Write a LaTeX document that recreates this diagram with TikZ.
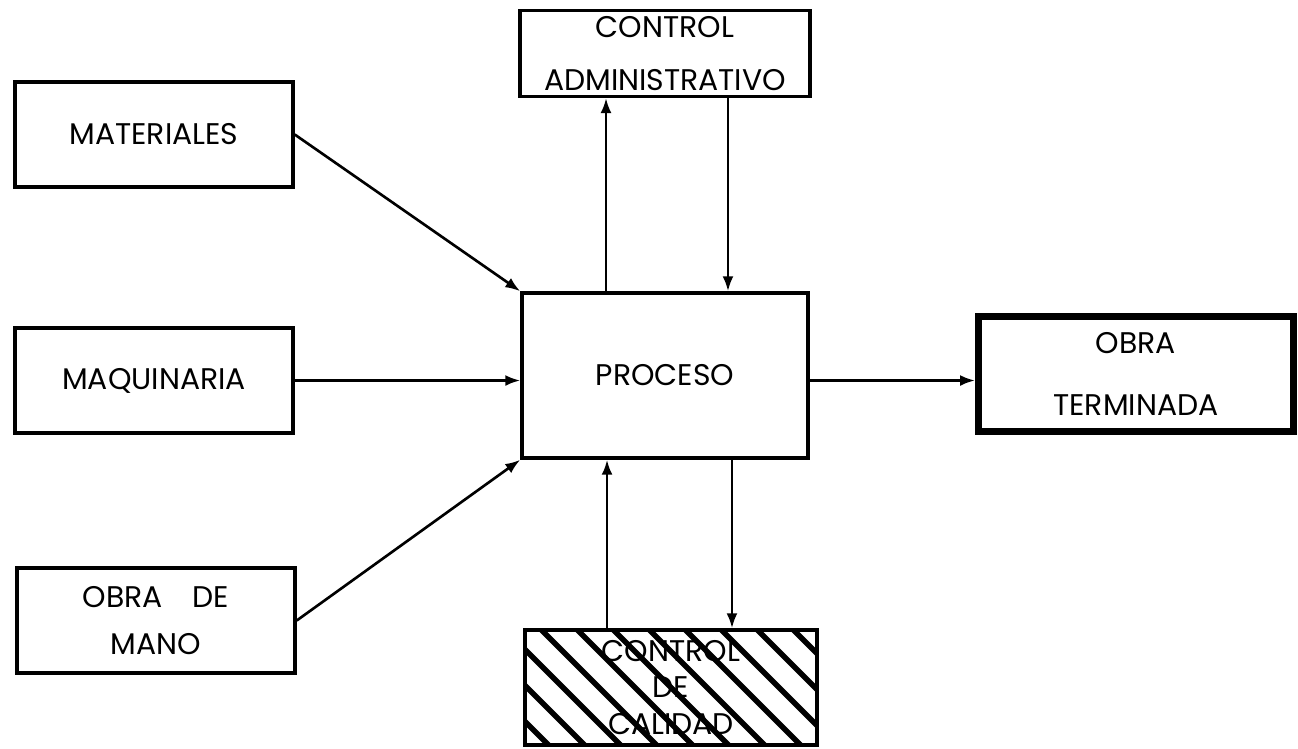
\documentclass[tikz,border=0pt]{standalone}
\usepackage{fontspec}
\setmainfont{Poppins}
\usetikzlibrary{arrows.meta}
\usetikzlibrary{calc}

\tikzset{
    caja/.style={draw, rectangle, line width=2pt, align=center, font=\fontsize{17}{20}\selectfont},
    flecha/.style={line width=1.5pt, -{Latex[length=3mm,width=2.2mm]}},
}

\begin{document}
\begin{tikzpicture}[x=0.02cm, y=-0.02cm]

    \useasboundingbox (0,0) rectangle (1298,748);

    % Define nodes
    \node (mat)  [caja, minimum width=5.56cm, minimum height=2.1cm] at (154,134.5) {MATERIALES};
    \node (maq)  [caja, minimum width=5.56cm, minimum height=2.1cm] at (154,380.5) {MAQUINARIA};
    \node (mano) [caja, minimum width=5.56cm, minimum height=2.1cm] at (156,620.5) {OBRA\quad DE\\[0.25cm] MANO};

    \node (admin) [caja, minimum width=5.8cm, minimum height=1.66cm] at (665,53.5) {CONTROL\\[0.35cm] ADMINISTRATIVO};
    \node (proc)  [caja, minimum width=5.72cm, minimum height=3.3cm] at (665,375.5) {PROCESO};
    \node (term)  [caja, line width=4pt, minimum width=6.3cm, minimum height=2.3cm] at (1136,374) {OBRA\\[0.55cm] TERMINADA};

    % hatched box
    \node (cal) [draw, rectangle, line width=2pt, minimum width=5.84cm, minimum height=2.3cm] at (671,687.5) {};
    \begin{scope}
        \clip (cal.south west) rectangle (cal.north east);
        \foreach \s in {-360,-324,...,360}
            \draw[line width=3.2pt] ($(cal.center)+(\s-140,-140)$) -- ($(cal.center)+(\s+140,140)$);
    \end{scope}
    \node[align=center, font=\fontsize{17}{20}\selectfont] at (cal.center) {CONTROL\\[0.02cm] DE\\[0.02cm] CALIDAD};

    % Draw arrows
    \draw[flecha] (mat.east) -- (proc.north west);
    \draw[flecha] (maq.east) -- (maq.east -| proc.west);
    \draw[flecha] (mano.east) -- (proc.south west);

    \draw[flecha] ([xshift=-1.18cm]proc.north) -- ([xshift=-1.18cm]proc.north |- admin.south);
    \draw[flecha] ([xshift=1.26cm]proc.north |- admin.south) -- ([xshift=1.26cm]proc.north);

    \draw[flecha] ([xshift=-1.16cm]proc.south |- cal.north) -- ([xshift=-1.16cm]proc.south);
    \draw[flecha] ([xshift=1.34cm]proc.south) -- ([xshift=1.34cm]proc.south |- cal.north);

    \draw[flecha] (proc.east |- maq.east) -- (term.west |- maq.east);

\end{tikzpicture}
\end{document}
